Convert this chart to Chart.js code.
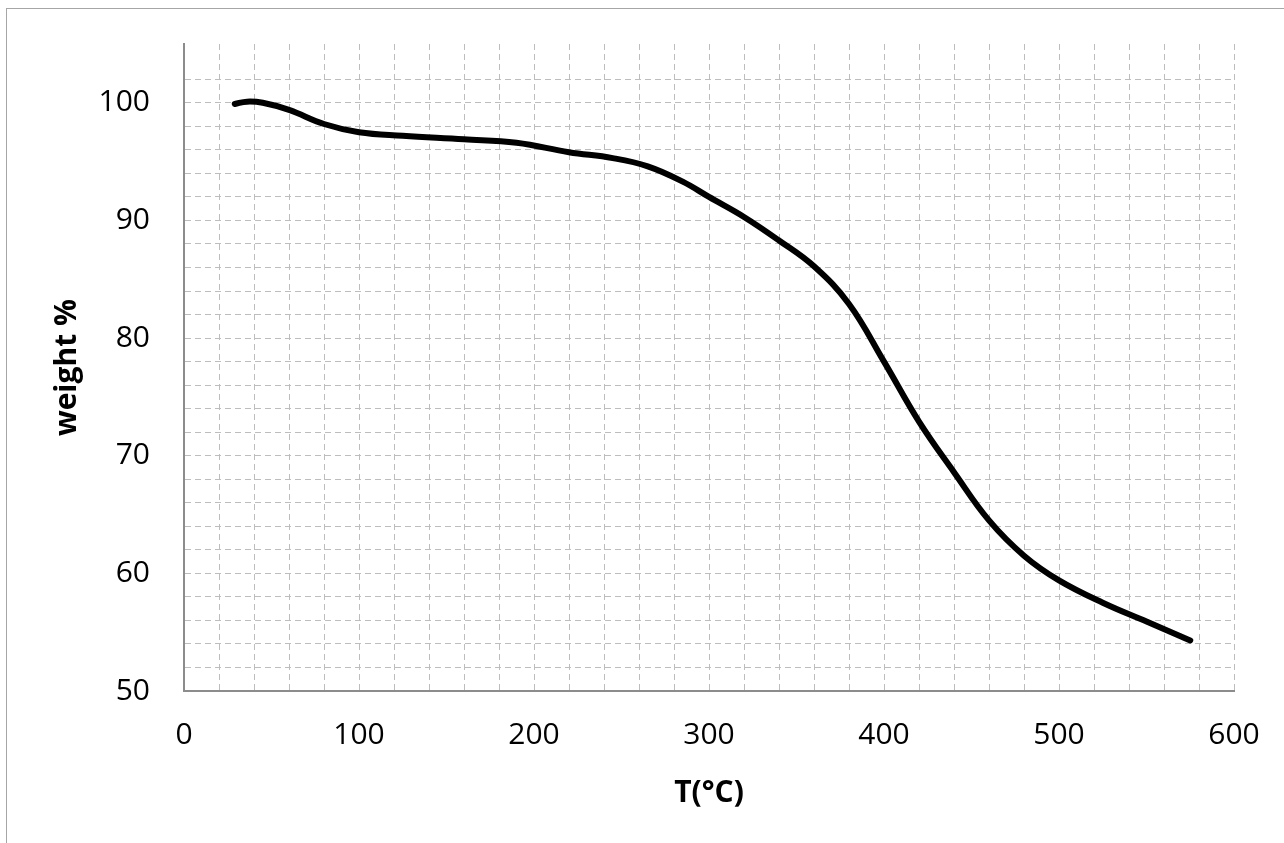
<!DOCTYPE html>
<html>
<head>
<meta charset="utf-8">
<script src="https://cdn.jsdelivr.net/npm/chart.js@4"></script>
<style>
  html, body { margin: 0; padding: 0; background: #fff; overflow: hidden; }
  #wrap { position: relative; width: 1284px; height: 843px; }
  #frame { position: absolute; left: 6px; top: 8px; width: 1400px; height: 900px; border: 1px solid #a6a6a6; pointer-events: none; }
</style>
</head>
<body>
<div id="wrap">
  <canvas id="myChart" width="1284" height="843"></canvas>
  <div id="frame"></div>
</div>
<script>
// TGA curve
const temps   = [29, 36, 45, 60, 80, 100, 125, 160, 190, 220, 245, 265, 285, 300, 320, 340, 360, 380, 400, 420, 440, 460, 480, 500, 525, 550, 575];
const weights = [99.9, 100.1, 100.0, 99.4, 98.2, 97.5, 97.2, 96.9, 96.6, 95.8, 95.3, 94.6, 93.3, 92.0, 90.3, 88.3, 86.1, 82.9, 78.0, 72.9, 68.6, 64.5, 61.5, 59.4, 57.5, 55.9, 54.3];
const xLabelValues = [0, 100, 200, 300, 400, 500, 600];
const yLabelValues = [50, 60, 70, 80, 90, 100];

const points = temps.map((t, i) => ({ x: t, y: weights[i] }));

const gridColor = '#bdbdbd';
const axisColor = '#8c8c8c';
const tickFont = { family: '"Open Sans", sans-serif', size: 30 };
const titleFont = { family: '"Open Sans", sans-serif', size: 30, weight: 'bold' };

const ctx = document.getElementById('myChart').getContext('2d');
const myChart = new Chart(ctx, {
    type: 'line',
    data: {
        datasets: [{
            data: points,
            borderColor: '#000',
            borderWidth: 6,
            borderCapStyle: 'round',
            pointRadius: 0,
            tension: 0.4,
            fill: false
        }]
    },
    options: {
        responsive: false,
        animation: false,
        layout: { padding: { left: 0, top: 44, right: 50, bottom: 0 } },
        plugins: { legend: { display: false }, tooltip: { enabled: false } },
        scales: {
            x: {
                type: 'linear',
                min: 0,
                max: 600,
                afterFit: (s) => { s.height = 152; s.paddingLeft = 0; s.paddingRight = 0; },
                ticks: {
                    stepSize: 20,
                    autoSkip: false,
                    maxRotation: 0,
                    padding: 26,
                    color: '#000',
                    font: tickFont,
                    callback: (v) => xLabelValues.includes(v) ? String(v) : ''
                },
                grid: { color: gridColor, lineWidth: 1, drawTicks: false },
                border: { display: true, color: axisColor, width: 2, dash: [6, 4] },
                title: { display: true, text: 'T(°C)', color: '#000', font: titleFont, padding: { top: 0, bottom: 32 } }
            },
            y: {
                type: 'linear',
                min: 50,
                max: 105,
                afterFit: (s) => { s.width = 184; s.paddingTop = 0; s.paddingBottom = 0; },
                afterBuildTicks: (s) => { s.ticks = s.ticks.filter(t => t.value <= 104); },
                ticks: {
                    stepSize: 2,
                    autoSkip: false,
                    padding: 34,
                    color: '#000',
                    font: tickFont,
                    callback: (v) => yLabelValues.includes(v) ? String(v) : ''
                },
                grid: { color: gridColor, lineWidth: 1, drawTicks: false },
                border: { display: true, color: axisColor, width: 2, dash: [6, 4] },
                title: { display: true, text: 'weight %', color: '#000', font: titleFont, padding: { top: 49, bottom: 0 } }
            }
        }
    }
});
</script>
</body>
</html>
